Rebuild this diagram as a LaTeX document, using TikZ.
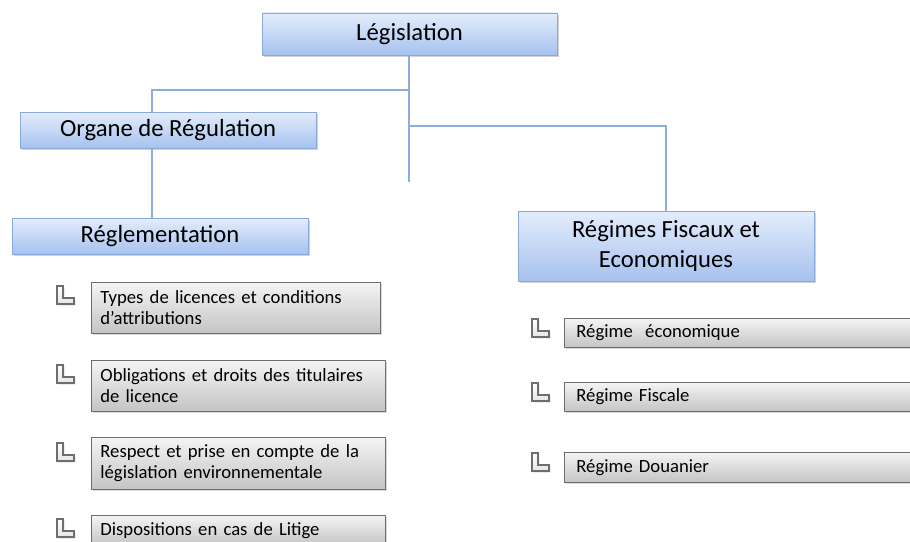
\documentclass[tikz,border=0pt]{standalone}
\usepackage{fontspec}
\setmainfont{Carlito}
\usetikzlibrary{shadows}

\definecolor{linkblue}{HTML}{8CAEDA}
\definecolor{bluetop}{HTML}{E3EDFC}
\definecolor{bluebot}{HTML}{A6C2EE}
\definecolor{blueedge}{HTML}{88A9D9}
\definecolor{graytop}{HTML}{F4F4F4}
\definecolor{graybot}{HTML}{C4C4C4}
\definecolor{grayedge}{HTML}{6E6E6E}

\def\px{0.75pt}

\tikzset{
  bluebox/.style={draw=blueedge, line width=0.6pt, top color=bluetop, bottom color=bluebot,
      drop shadow={opacity=0.35, shadow xshift=1.2pt, shadow yshift=-1.2pt},
      font=\fontsize{18.5}{22.5}\selectfont, align=center, inner sep=0pt},
  graybox/.style={draw=grayedge, line width=0.6pt, top color=graytop, bottom color=graybot,
      drop shadow={opacity=0.3, shadow xshift=1.5pt, shadow yshift=-1.5pt},
      font=\fontsize{14}{16}\selectfont, align=left, anchor=north west, inner xsep=9*\px},
  link/.style={draw=linkblue, line width=0.8pt},
  lmark/.pic={
      code={
          \draw[grayedge, line width=0.8pt, top color=white, bottom color=gray!20,
              drop shadow={opacity=0.4, shadow xshift=1pt, shadow yshift=-1pt}]
            (-8,-9) -- (-2,-9) -- (-2,3) -- (9,3) -- (9,9) -- (-8,9) -- cycle;
        }}
}

\begin{document}
\begin{tikzpicture}[x=\px, y=-\px]
        \useasboundingbox (0,0) rectangle (910,542);
        \clip (0,0) rectangle (910,542);

        % main boxes
        \node[bluebox, minimum width=295*\px, minimum height=42*\px] (legis) at (409.5,34) {Législation};
        \node[bluebox, minimum width=296*\px, minimum height=36*\px] (organe) at (168,130) {Organe de Régulation};
        \node[bluebox, minimum width=296*\px, minimum height=36*\px] (regl) at (160,236) {Réglementation};
        \node[bluebox, minimum width=296*\px, minimum height=70*\px] (regimes) at (666,246) {Régimes Fiscaux et\\Economiques};

        % connectors
        \coordinate (trunk) at (409,182);
        \coordinate (spine) at (152,90);
        \draw[link] (legis.south -| trunk) -- (trunk);
        \draw[link] (spine -| trunk) -- (spine) -- (spine |- organe.north);
        \draw[link] (spine |- organe.south) -- (spine |- regl.north);
        \draw[link] (trunk |- 0,126) -| (regimes.north);

        % left list
        \node[graybox, text width=271*\px, minimum height=51*\px] (t_1) at (91,282)
            {Types de licences et conditions\\d’attributions};
        \node[graybox, text width=276*\px, minimum height=51*\px] (t_2) at (91,360)
            {Obligations et droits des titulaires\\de licence};
        \node[graybox, text width=276*\px, minimum height=52*\px] (t_3) at (91,437)
            {Respect et prise en compte de la\\législation environnementale};
        \node[graybox, text width=276*\px, minimum height=30*\px] (t_4) at (91,515)
            {Dispositions en cas de Litige};

        % right list
        \node[graybox, text width=357*\px, minimum height=29*\px, inner xsep=12*\px] (r_1) at (564,318) {Régime\ \ économique};
        \node[graybox, text width=357*\px, minimum height=29*\px, inner xsep=12*\px] (r_2) at (564,382) {Régime Fiscale};
        \node[graybox, text width=357*\px, minimum height=30*\px, inner xsep=12*\px] (r_3) at (564,452) {Régime Douanier};

        \foreach \y in {295,374,452,528} {
            \path (65,\y) pic {lmark};
          }
        \foreach \y in {328,392,462} {
            \path (540,\y) pic {lmark};
          }
      \end{tikzpicture}
\end{document}
